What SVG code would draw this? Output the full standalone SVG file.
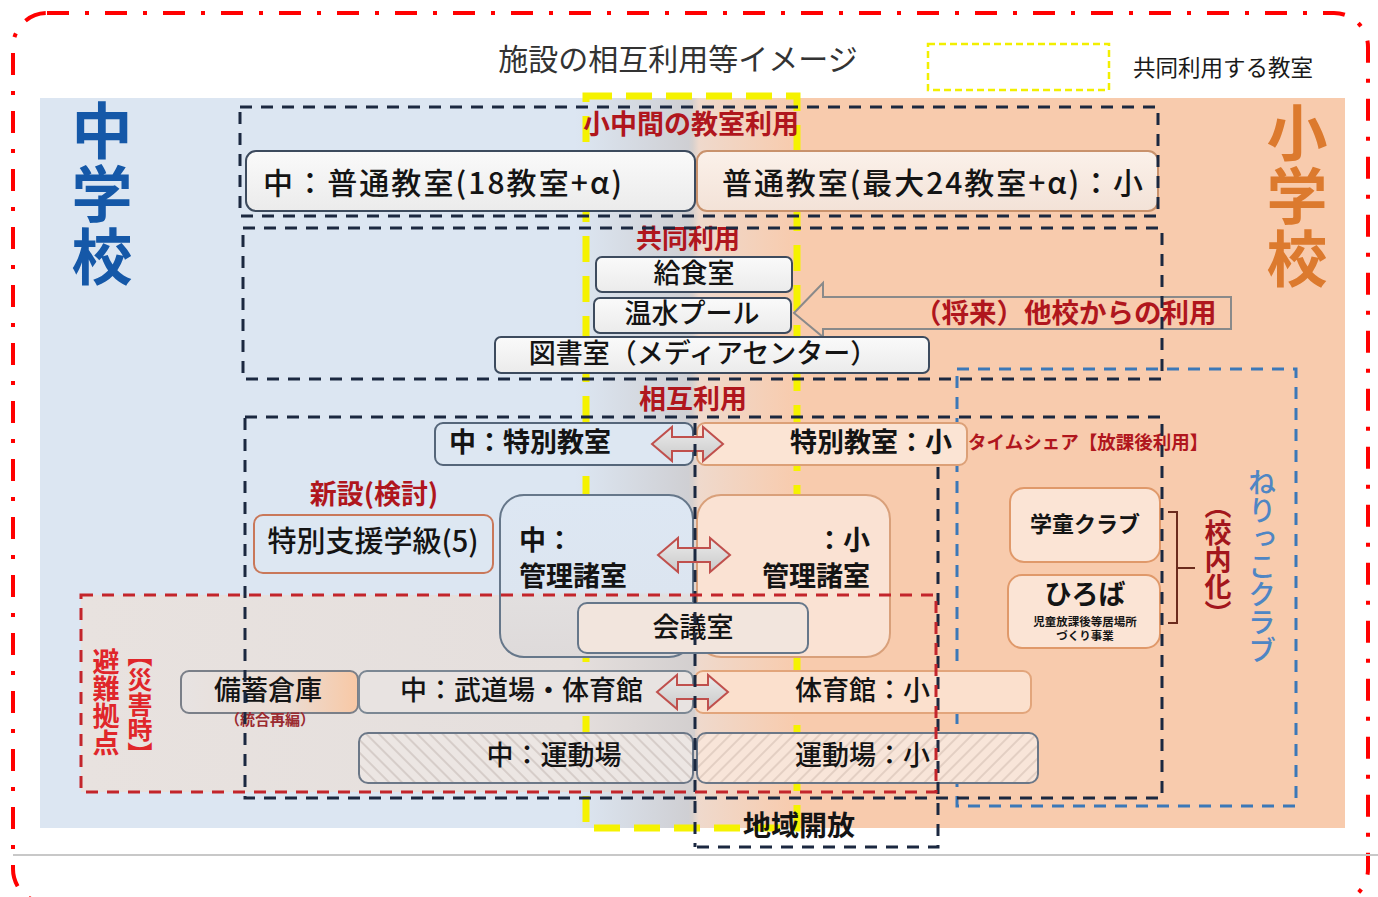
<svg xmlns="http://www.w3.org/2000/svg" width="1378" height="897" viewBox="0 0 1378 897">
<defs>
<style>
text{font-family:'Noto Sans CJK JP','Noto Sans CJK SC',sans-serif;}
.bt{font-size:27px;fill:#141414;font-weight:500}
.bb{font-size:27px;fill:#141414;font-weight:700}
.lbl{font-weight:700;fill:#b0161d}
.blk{fill:none;stroke:#1b2840;stroke-width:3;stroke-dasharray:12 9}
.redb{fill:none;stroke:#c3252b;stroke-width:3;stroke-dasharray:12 9}
.gbox{fill:url(#gw);stroke:#3d4b5e;stroke-width:2}
.dar{fill:url(#ga);stroke:#c0504d;stroke-width:2}
</style>
<linearGradient id="bg" x1="40" y1="0" x2="1345" y2="0" gradientUnits="userSpaceOnUse">
<stop offset="0" stop-color="#dce6f2"/>
<stop offset="0.41" stop-color="#dce6f2"/>
<stop offset="0.497" stop-color="#cfcfd3"/>
<stop offset="0.5" stop-color="#d6d0ce"/>
<stop offset="0.505" stop-color="#efd9cc"/>
<stop offset="0.58" stop-color="#f8cbad"/>
<stop offset="1" stop-color="#f8cbad"/>
</linearGradient>
<linearGradient id="rf" x1="81" y1="0" x2="695" y2="0" gradientUnits="userSpaceOnUse">
<stop offset="0" stop-color="#e8e2df"/>
<stop offset="0.8" stop-color="#e5dfdd"/>
<stop offset="1" stop-color="#d3cfcf"/>
</linearGradient>
<linearGradient id="gw" x1="0" y1="0" x2="0" y2="1">
<stop offset="0" stop-color="#fafafa"/>
<stop offset="1" stop-color="#ebebeb"/>
</linearGradient>
<linearGradient id="go" x1="0" y1="0" x2="0" y2="1">
<stop offset="0" stop-color="#fbf1ea"/>
<stop offset="1" stop-color="#f3e2d7"/>
</linearGradient>
<linearGradient id="ga" x1="0" y1="0" x2="0" y2="1">
<stop offset="0" stop-color="#ececec"/>
<stop offset="1" stop-color="#c9c9c9"/>
</linearGradient>
<linearGradient id="gmc" x1="0" y1="0" x2="0" y2="1">
<stop offset="0" stop-color="#dde7f3"/>
<stop offset="0.6" stop-color="#dce5f0"/>
<stop offset="0.62" stop-color="#e2dfdf"/>
<stop offset="1" stop-color="#dedada"/>
</linearGradient>
<linearGradient id="gbc" x1="0" y1="0" x2="1" y2="0">
<stop offset="0" stop-color="#e7e3e2"/>
<stop offset="0.6" stop-color="#ebdcd3"/>
<stop offset="1" stop-color="#f8c8a5"/>
</linearGradient>
<pattern id="hL" width="9" height="9" patternUnits="userSpaceOnUse" patternTransform="rotate(-45)">
<rect width="9" height="9" fill="#ece6e3"/>
<line x1="1" y1="0" x2="1" y2="9" stroke="#d6cdc9" stroke-width="2"/>
</pattern>
<pattern id="hR" width="9" height="9" patternUnits="userSpaceOnUse" patternTransform="rotate(45)">
<rect width="9" height="9" fill="#f8e5d9"/>
<line x1="1" y1="0" x2="1" y2="9" stroke="#e3cfc3" stroke-width="2"/>
</pattern>
</defs>

<rect width="1378" height="897" fill="#ffffff"/>
<rect x="13" y="13" width="1355" height="890" rx="34" fill="none" stroke="#ff0000" stroke-width="4" stroke-dasharray="22 16 4 16"/>
<line x1="13" y1="855" x2="1378" y2="855" stroke="#c8c8c8" stroke-width="2"/>

<g id="background">
<rect x="40" y="98" width="1305" height="730" fill="url(#bg)"/>
<rect x="81" y="595" width="614" height="197" fill="url(#rf)"/>
</g>

<g id="title">
<text x="678" y="70" text-anchor="middle" font-size="30" fill="#333333">施設の相互利用等イメージ</text>
<rect x="928" y="44" width="181" height="46" fill="none" stroke="#f2ef00" stroke-width="2.5" stroke-dasharray="7 4"/>
<text x="1133" y="76" font-size="22.5" fill="#1a1a1a">共同利用する教室</text>
</g>

<g id="shared-zone">
<rect x="586" y="96" width="211" height="732" fill="none" stroke="#f5f200" stroke-width="7" stroke-dasharray="26 14"/>
</g>

<g id="nerikko-zone">
<rect x="957" y="369" width="339" height="437" fill="none" stroke="#3b78b8" stroke-width="3" stroke-dasharray="12 9"/>
<text x="1262" y="468" writing-mode="vertical-rl" font-size="28" fill="#4f86c4" font-weight="500">ねりっこクラブ</text>
</g>

<g id="school-labels">
<text x="102" y="100" writing-mode="vertical-rl" font-size="61" letter-spacing="2" font-weight="700" fill="#1558a8">中学校</text>
<text x="1297" y="102" writing-mode="vertical-rl" font-size="61" letter-spacing="2" font-weight="700" fill="#dc7a2e">小学校</text>
</g>

<g id="section-labels">
<text class="lbl" x="691" y="134" text-anchor="middle" font-size="27">小中間の教室利用</text>
<text class="lbl" x="688" y="248" text-anchor="middle" font-size="26">共同利用</text>
<text class="lbl" x="693" y="409" text-anchor="middle" font-size="27">相互利用</text>
<text class="lbl" x="374" y="504" text-anchor="middle" font-size="27">新設(検討)</text>
<text class="lbl" x="968" y="449" font-size="18.5">タイムシェア【放課後利用】</text>
<text x="140" y="642" writing-mode="vertical-rl" font-size="25" font-weight="700" fill="#e0262a">【災害時】</text>
<text x="106" y="648" writing-mode="vertical-rl" font-size="27" font-weight="700" fill="#e0262a">避難拠点</text>
<text x="1218" y="492" writing-mode="vertical-rl" font-size="27" font-weight="700" fill="#a3161c">（校内化）</text>
<text x="799" y="836" text-anchor="middle" font-size="28" font-weight="700" fill="#141414">地域開放</text>
</g>

<g id="connectors">
<path id="future-arrow" d="M794,313 L823,283 L823,297 L1231,297 L1231,329 L823,329 L823,337 Z" fill="#f8cbad" stroke="#8a8a8a" stroke-width="2"/>
<text class="lbl" x="914" y="323" font-size="27.5" fill="#a3161c">（将来）他校からの利用</text>
</g>

<g id="n-futsu-chu">
<rect class="gbox" x="246" y="151" width="449" height="60" rx="10"/>
<text x="263" y="194" font-size="30" font-weight="500" fill="#141414" textLength="359" lengthAdjust="spacing">中：普通教室(18教室+α)</text>
</g>
<g id="n-futsu-sho">
<rect x="697" y="151" width="461" height="60" rx="10" fill="url(#go)" stroke="#c9926c" stroke-width="2"/>
<text x="722" y="194" font-size="30" font-weight="500" fill="#141414" textLength="421" lengthAdjust="spacing">普通教室(最大24教室+α)：小</text>
</g>
<g id="n-kyushoku">
<rect class="gbox" x="596" y="257" width="196" height="35" rx="6"/>
<text class="bt" x="694" y="283" text-anchor="middle">給食室</text>
</g>
<g id="n-pool">
<rect class="gbox" x="594" y="298" width="197" height="35" rx="6"/>
<text class="bt" x="692" y="323" text-anchor="middle">温水プール</text>
</g>
<g id="n-library">
<rect class="gbox" x="495" y="337" width="434" height="36" rx="6"/>
<text class="bt" x="703" y="363" text-anchor="middle">図書室（メディアセンター）</text>
</g>
<g id="n-tokubetsu-chu">
<rect x="435" y="423" width="258" height="42" rx="8" fill="#dde7f2" stroke="#55667a" stroke-width="2"/>
<text class="bb" x="449" y="452">中：特別教室</text>
</g>
<g id="n-tokubetsu-sho">
<rect x="697" y="423" width="270" height="42" rx="8" fill="#fbe4d4" stroke="#dca077" stroke-width="2"/>
<text class="bb" x="952" y="452" text-anchor="end">特別教室：小</text>
</g>
<g id="n-shien">
<rect x="254" y="515" width="239" height="58" rx="9" fill="#dde7f2" stroke="#c9785a" stroke-width="2"/>
<text x="373" y="552" text-anchor="middle" font-size="29" font-weight="500" fill="#141414">特別支援学級(5)</text>
</g>
<g id="n-kanri-chu">
<rect x="500" y="495" width="193" height="162" rx="24" fill="url(#gmc)" stroke="#66778a" stroke-width="2"/>
<text class="bb" x="519" y="550">中：</text>
<text class="bb" x="519" y="586">管理諸室</text>
</g>
<g id="n-kanri-sho">
<rect x="697" y="495" width="193" height="162" rx="24" fill="#fae2d3" stroke="#d9a07a" stroke-width="2"/>
<text class="bb" x="870" y="550" text-anchor="end">：小</text>
<text class="bb" x="870" y="586" text-anchor="end">管理諸室</text>
</g>
<g id="n-kaigi">
<rect x="578" y="603" width="230" height="50" rx="9" fill="#f2e5dd" stroke="#66778a" stroke-width="2"/>
<text class="bt" x="693" y="637" text-anchor="middle">会議室</text>
</g>
<g id="n-bichiku">
<rect x="181" y="671" width="177" height="42" rx="8" fill="url(#gbc)" stroke="#7a7f88" stroke-width="2"/>
<text class="bt" x="268" y="700" text-anchor="middle">備蓄倉庫</text>
<text x="270" y="725" text-anchor="middle" font-size="15" font-weight="700" fill="#9b2b30">（統合再編）</text>
</g>
<g id="n-budo-chu">
<rect x="359" y="671" width="334" height="42" rx="8" fill="#e8e3e1" stroke="#7b8793" stroke-width="2"/>
<text class="bt" x="400" y="700" font-size="28">中：武道場・体育館</text>
</g>
<g id="n-taiiku-sho">
<rect x="695" y="671" width="336" height="42" rx="8" fill="#fbe0cd" stroke="#e2a57b" stroke-width="2"/>
<text class="bt" x="930" y="700" text-anchor="end">体育館：小</text>
</g>
<g id="n-undo-chu">
<rect x="359" y="733" width="334" height="50" rx="9" fill="url(#hL)" stroke="#6b7787" stroke-width="2"/>
<text class="bt" x="554" y="765" text-anchor="middle">中：運動場</text>
</g>
<g id="n-undo-sho">
<rect x="697" y="733" width="341" height="50" rx="9" fill="url(#hR)" stroke="#6b7787" stroke-width="2"/>
<text class="bt" x="930" y="765" text-anchor="end">運動場：小</text>
</g>
<g id="n-gakudo">
<rect x="1010" y="488" width="150" height="74" rx="14" fill="#fbe4d5" stroke="#e0996a" stroke-width="2"/>
<text x="1085" y="532" text-anchor="middle" font-size="22" font-weight="700" fill="#141414">学童クラブ</text>
</g>
<g id="n-hiroba">
<rect x="1008" y="575" width="152" height="73" rx="14" fill="#fbe4d5" stroke="#e0996a" stroke-width="2"/>
<text x="1085" y="604" text-anchor="middle" font-size="27" font-weight="700" fill="#141414">ひろば</text>
<text x="1085" y="626" text-anchor="middle" font-size="11.5" font-weight="700" fill="#141414">児童放課後等居場所</text>
<text x="1085" y="640" text-anchor="middle" font-size="11.5" font-weight="700" fill="#141414">づくり事業</text>
</g>

<g id="connectors-2">
<path class="dar" d="M652,444 L672,427 L672,437 L703,437 L703,427 L723,444 L703,461 L703,451 L672,451 L672,461 Z"/>
<path class="dar" d="M658,555 L678,538 L678,548 L710,548 L710,538 L730,555 L710,572 L710,562 L678,562 L678,572 Z"/>
<path class="dar" d="M657,692 L677,675 L677,685 L708,685 L708,675 L728,692 L708,709 L708,699 L677,699 L677,709 Z"/>
<path d="M1168,512 H1177 V623 H1168 M1177,568 H1195" fill="none" stroke="#6b2b1d" stroke-width="2"/>
</g>

<g id="zones">
<rect class="blk" x="240" y="107" width="918" height="109"/>
<rect class="blk" x="243" y="228" width="919" height="151"/>
<rect class="blk" x="245" y="417" width="917" height="381"/>
<path class="blk" d="M938,467 V847 H695"/>
<line class="blk" x1="695" y1="423" x2="695" y2="847"/>
<rect class="redb" x="81" y="595" width="855" height="197"/>
</g>
</svg>
